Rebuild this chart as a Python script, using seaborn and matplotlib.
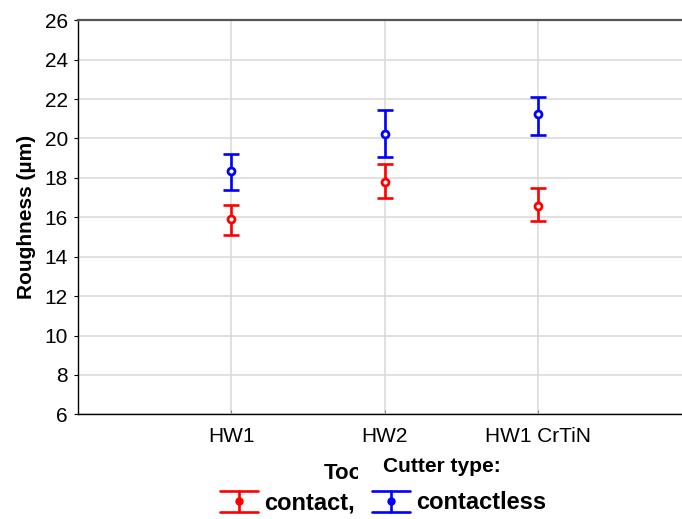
import numpy as np
import pandas as pd
import matplotlib
matplotlib.use("Agg")
import matplotlib.pyplot as plt
from matplotlib.lines import Line2D
from matplotlib.legend_handler import HandlerBase
from matplotlib.patches import Rectangle
import seaborn as sns

# Mean roughness with interval bounds per tool and cutter type
tools = ["HW1", "HW2", "HW1 CrTiN"]
cutter_types = ["contact", "contactless"]
legend_labels = ["contact,", "contactless"]

contact_mean = [15.91, 17.81, 16.59]
contact_low = [15.12, 16.96, 15.79]
contact_high = [16.64, 18.70, 17.49]

contactless_mean = [18.36, 20.25, 21.22]
contactless_low = [17.39, 19.04, 20.16]
contactless_high = [19.21, 21.44, 22.12]

y_ticks = list(range(6, 27, 2))
colors = {"contact": "#ff0000", "contactless": "#0000ff"}

df = pd.DataFrame({
    "Tool": tools * 2,
    "Cutter type": ["contact"] * len(tools) + ["contactless"] * len(tools),
    "Roughness": contact_mean + contactless_mean,
    "low": contact_low + contactless_low,
    "high": contact_high + contactless_high,
})

sns.set_style("white")
plt.rcParams["font.family"] = ["Liberation Sans", "DejaVu Sans"]
plt.rcParams.update({
    "text.color": "black",
    "axes.labelcolor": "black",
    "xtick.color": "black",
    "ytick.color": "black",
})

W, H = 682, 519
fig = plt.figure(figsize=(W / 100, H / 100), dpi=100)
ax = fig.add_axes([77.5 / W, (H - 414.3) / H, 614 / W, 394 / H])

# interval bars first, markers on top
x_pos = np.arange(len(tools))
for ct in cutter_types:
    sub = df[df["Cutter type"] == ct].set_index("Tool").loc[tools]
    yerr = np.vstack([sub["Roughness"] - sub["low"], sub["high"] - sub["Roughness"]])
    ax.errorbar(x_pos, sub["Roughness"], yerr=yerr, fmt="none",
                ecolor=colors[ct], elinewidth=1.9, capsize=5.5, capthick=1.9)

sns.pointplot(data=df, x="Tool", y="Roughness", hue="Cutter type",
              order=tools, hue_order=cutter_types, palette=colors,
              dodge=False, linestyle="none", errorbar=None, markers="o",
              markersize=5, markeredgewidth=2.0, markerfacecolor="white",
              legend=False, ax=ax)

ax.set_xlim(-1, len(tools))
ax.set_ylim(y_ticks[0], y_ticks[-1])
ax.set_yticks(y_ticks)
ax.grid(True, color="#d9d9d9", linewidth=1.1)
ax.set_axisbelow(True)

for side in ["left", "bottom"]:
    ax.spines[side].set_color("black")
    ax.spines[side].set_linewidth(1.0)
ax.spines["top"].set_color("#555555")
ax.spines["top"].set_linewidth(1.6)
ax.spines["right"].set_visible(False)

ax.tick_params(axis="y", left=True, direction="out", length=3, width=0.8,
               color="black", labelcolor="black", pad=4, labelsize=15)
ax.tick_params(axis="x", bottom=True, direction="in", length=3, width=0.8,
               color="#888888", labelcolor="black", pad=9, labelsize=15)

ax.set_ylabel("Roughness (µm)", fontsize=15, fontweight="bold", color="black")
ax.yaxis.set_label_coords((36 - 77.5) / 614, 0.5)
ax.set_xlabel("Tool", fontsize=16, fontweight="bold", color="black")
ax.xaxis.set_label_coords((346.5 - 77.5) / 614, (414.3 - 463) / 394)

# legend title panel sits over the axis title
fig.add_artist(Rectangle((357.5 / W, (H - 484) / H), (540 - 357.5) / W, (484 - 452) / H,
                         transform=fig.transFigure, facecolor="white",
                         edgecolor="none", zorder=1))
fig.text(383 / W, (H - 472) / H, "Cutter type:", ha="left", va="baseline",
         fontsize=15, fontweight="bold", color="black", zorder=3)


class CapBarHandler(HandlerBase):
    """Legend key drawn as a capped vertical bar with a centre dot."""

    def create_artists(self, legend, orig_handle, xdescent, ydescent,
                       width, height, fontsize, trans):
        c = orig_handle.get_color()
        x0, x1 = -xdescent, -xdescent + width
        y0, y1 = -ydescent, -ydescent + height
        xm, ym = (x0 + x1) / 2, (y0 + y1) / 2
        arts = [
            Line2D([x0, x1], [y1, y1]),
            Line2D([x0, x1], [y0, y0]),
            Line2D([xm, xm], [y0, y1]),
            Line2D([xm], [ym], marker="o", markersize=5, linestyle="none"),
        ]
        for a in arts:
            a.set_color(c)
            a.set_linewidth(1.9)
            a.set_transform(trans)
        return arts


handles = [Line2D([], [], color=colors[ct]) for ct in cutter_types]
leg = fig.legend(handles, legend_labels, handler_map={Line2D: CapBarHandler()},
                 ncol=2, frameon=False, prop={"weight": "bold", "size": 17},
                 handlelength=1.6, handleheight=1.0, handletextpad=0.25,
                 columnspacing=0.75, borderpad=0, borderaxespad=0,
                 loc="center left", bbox_to_anchor=(220 / W, (H - 502.5) / H))
for t in leg.get_texts():
    t.set_color("black")

fig.savefig("out.png", dpi=100)
